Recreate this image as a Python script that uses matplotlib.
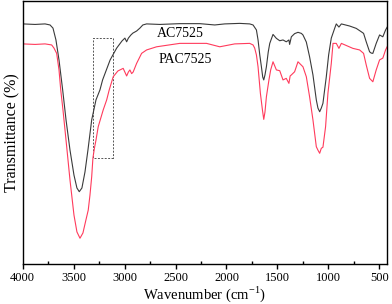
import matplotlib
matplotlib.use("Agg")
from matplotlib import pyplot as plt
from matplotlib.patches import Rectangle
from matplotlib.ticker import MultipleLocator

plt.rcParams['font.family'] = ['Liberation Serif', 'DejaVu Serif']
plt.rcParams['mathtext.fontset'] = 'custom'
plt.rcParams['mathtext.rm'] = 'Liberation Serif'

# AC7525 spectrum (wavenumber, transmittance)
ac_wn = [4000, 3879, 3781, 3732, 3703, 3674, 3644, 3608, 3575, 3536, 3497, 3468,
         3445, 3419, 3389, 3360, 3323, 3281, 3242, 3216, 3142, 3078, 3026, 2997,
         2980, 2963, 2938, 2919, 2882, 2850, 2821, 2784, 2654, 2458, 2262, 2115,
         2017, 1870, 1772, 1739, 1706, 1690, 1673, 1657, 1644, 1634, 1622, 1608,
         1590, 1575, 1543, 1510, 1477, 1445, 1413, 1387, 1380, 1363, 1331, 1298,
         1265, 1249, 1216, 1184, 1151, 1118, 1102, 1085, 1069, 1053, 1020, 997,
         971, 938, 922, 896, 872, 791, 726, 676, 654, 628, 595, 579, 563, 530,
         497, 465, 438, 416]
ac_t = [91.3, 91.1, 91.3, 90.9, 89.7, 85.2, 77.6, 66.2, 54.8, 43.3, 33.8, 28.9,
        27.5, 28.9, 35.0, 43.3, 54.8, 62.4, 66.2, 70.0, 77.6, 82.1, 84.8, 85.9,
        84.5, 85.9, 87.1, 87.8, 88.6, 89.7, 90.9, 91.3, 91.1, 91.4, 91.4, 90.9,
        91.3, 91.5, 91.3, 90.9, 89.0, 85.2, 79.5, 75.0, 71.1, 70.0, 71.9, 75.0,
        80.6, 83.9, 87.3, 85.8, 84.9, 85.2, 84.5, 85.2, 83.5, 86.4, 87.6, 88.1,
        87.7, 87.1, 84.4, 78.8, 71.9, 62.4, 59.3, 57.9, 59.3, 61.1, 71.2, 79.5,
        85.9, 89.6, 91.3, 90.1, 91.3, 90.5, 89.6, 88.3, 87.7, 84.5, 80.7, 80.2,
        80.1, 83.9, 87.1, 86.4, 89.0, 90.5]

# PAC7525 spectrum
pac_wn = [4000, 3879, 3781, 3716, 3693, 3667, 3644, 3627, 3605, 3575, 3536, 3497,
          3468, 3438, 3409, 3380, 3357, 3340, 3323, 3311, 3296, 3281, 3259, 3210,
          3176, 3151, 3112, 3066, 3014, 2980, 2963, 2948, 2931, 2916, 2882, 2833,
          2784, 2686, 2458, 2196, 2066, 1919, 1772, 1739, 1723, 1706, 1690, 1667,
          1647, 1634, 1622, 1608, 1583, 1566, 1543, 1510, 1477, 1445, 1413, 1387,
          1375, 1363, 1331, 1298, 1249, 1216, 1184, 1151, 1118, 1102, 1085, 1069,
          1053, 1027, 1004, 971, 954, 922, 896, 872, 759, 693, 654, 628, 595, 563,
          530, 497, 465, 438, 406]
pac_t = [83.7, 83.5, 83.7, 83.3, 82.1, 80.1, 73.8, 66.2, 58.6, 47.1, 31.9, 18.6,
         12.2, 9.8, 11.8, 16.7, 20.5, 26.2, 33.2, 40.3, 44.1, 47.1, 52.2, 58.6,
         62.4, 66.2, 71.2, 73.4, 74.4, 71.5, 73.0, 73.8, 72.4, 73.0, 76.3, 80.1,
         81.4, 82.6, 83.9, 83.9, 82.6, 83.7, 83.9, 83.3, 82.1, 79.5, 75.0, 64.9,
         58.6, 55.0, 57.8, 63.6, 70.0, 73.8, 76.9, 73.8, 73.5, 70.0, 70.6, 68.7,
         71.5, 71.9, 73.1, 76.9, 75.0, 71.2, 63.6, 54.8, 44.6, 43.3, 42.1, 44.0,
         44.4, 52.2, 64.9, 76.3, 83.9, 83.9, 82.0, 83.9, 82.0, 81.4, 80.1, 75.7,
         70.6, 69.3, 73.8, 77.6, 78.3, 81.4, 83.9]

# dashed box around the 3100-3300 shoulder
box_wn = (3308, 3118)
box_t = (40.3, 86.0)

fig = plt.figure(figsize=(3.92, 3.04), dpi=100)
ax = fig.add_axes([0.058, 0.1316, 0.929, 0.865])

ax.plot(ac_wn, ac_t, color='#3a3a3a', lw=0.8)
ax.plot(pac_wn, pac_t, color='#ff3b5c', lw=0.8)

ax.add_patch(Rectangle((box_wn[1], box_t[0]), box_wn[0] - box_wn[1], box_t[1] - box_t[0],
                       fill=False, ls=(0, (2, 1.5)), lw=0.7, edgecolor='#555555'))

ax.text(2458, 87.8, 'AC7525', fontsize=10, ha='center', va='center')
ax.text(2409, 77.7, 'PAC7525', fontsize=10, ha='center', va='center')

ax.set_xlim(4000, 425)
ax.set_ylim(0, 100)
ax.xaxis.set_major_locator(MultipleLocator(500))
ax.xaxis.set_minor_locator(MultipleLocator(250))
ax.tick_params(axis='x', which='major', direction='out', length=3.5, width=1, labelsize=9, pad=2.5)
ax.tick_params(axis='x', which='minor', direction='in', length=2.5, width=1)
ax.set_yticks([])
for s in ax.spines.values():
    s.set_linewidth(1.0)

ax.set_xlabel('Wavenumber (cm$^{\\mathregular{-1}}$)', fontsize=10.5)
ax.xaxis.set_label_coords(0.5, -0.076)
ax.set_ylabel('Transmittance (%)', fontsize=11.5, labelpad=2)

fig.savefig('out.png', dpi=100)
